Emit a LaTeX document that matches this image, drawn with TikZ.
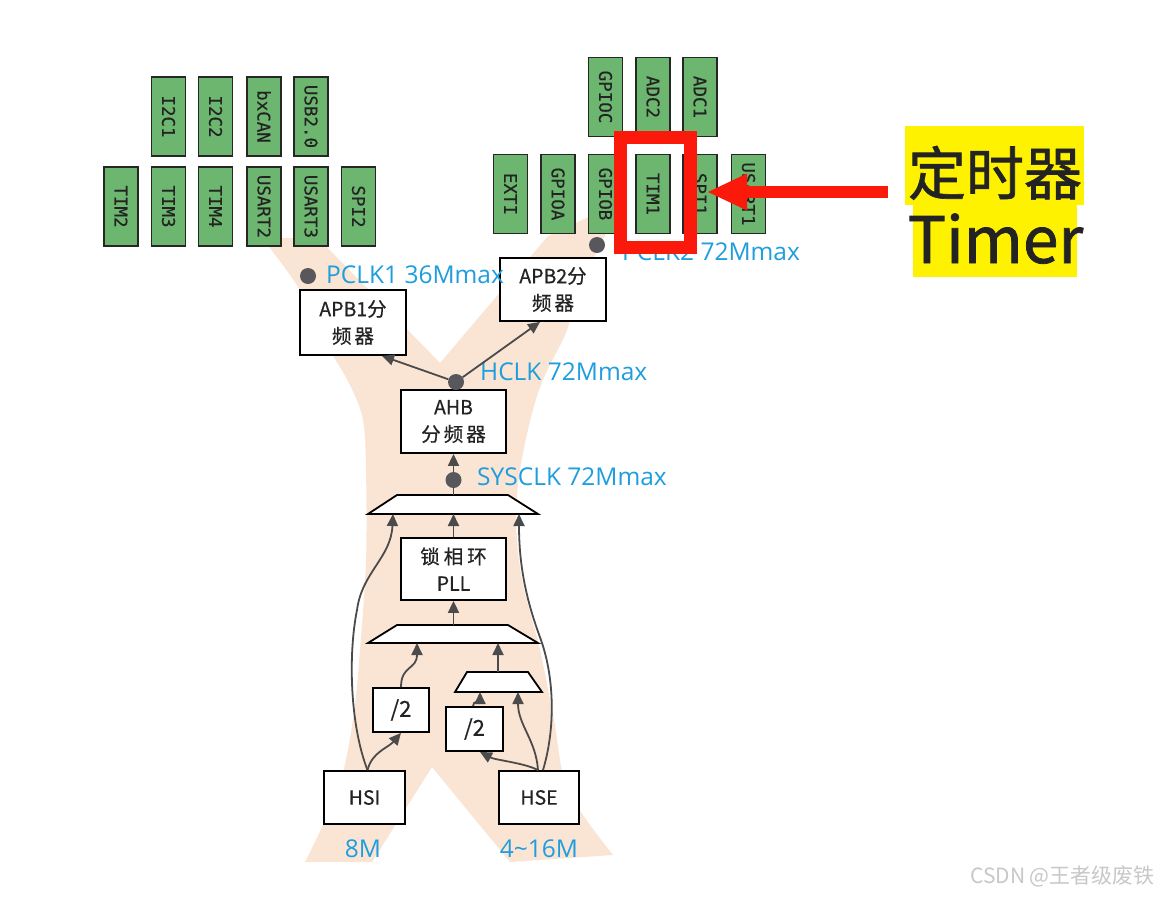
\documentclass[tikz,border=0pt]{standalone}
\usepackage{fontspec}
\usetikzlibrary{arrows.meta}
\newfontfamily\cjk{Noto Sans CJK SC}
\newfontfamily\cjkb{Noto Sans CJK SC}[FakeBold=0.6]
\newfontfamily\cjkbig{Noto Sans CJK SC}[FakeBold=1.2]
\newfontfamily\osans{Open Sans}
\newfontfamily\dmono{DejaVu Sans Mono}[FakeBold=0.4]
\definecolor{peach}{RGB}{250,228,212}
\definecolor{pgreen}{RGB}{108,182,112}
\definecolor{lblue}{RGB}{30,158,222}
\definecolor{hred}{RGB}{250,25,10}
\definecolor{hyellow}{RGB}{255,242,0}
\definecolor{arrgray}{RGB}{75,75,75}
\definecolor{dotgray}{RGB}{88,88,92}
\definecolor{txtdark}{RGB}{35,35,35}
\definecolor{wmgray}{RGB}{200,200,200}
\begin{document}
\begin{tikzpicture}[x=1pt,y=-1pt,
  gbox/.style={draw=black!85, line width=1.4pt, fill=pgreen, rotate=-90, minimum width=79pt, minimum height=34pt, inner sep=0pt, font=\dmono\fontsize{17.5}{17.5}\selectfont, text=txtdark},
  cbox/.style={draw=black, line width=1.8pt, fill=white, inner sep=0pt, align=center, font=\cjkb\fontsize{19.5}{27}\selectfont, text=txtdark},
  mux/.style={draw=black, line width=1.8pt, fill=white, line join=miter},
  dot/.style={circle, fill=dotgray, minimum size=16pt, inner sep=0pt},
  clk/.style={text=lblue, font=\osans\fontsize{24.5}{24.5}\selectfont, inner sep=0pt, anchor=base west},
  arr/.style={draw=arrgray, line width=1.8pt, -{Triangle[length=12pt,width=11pt]}},
  ln/.style={draw=arrgray, line width=1.8pt},
]
\useasboundingbox (0,0) rectangle (1158,897);
\fill[white] (0,0) rectangle (1158,897);

% peach X background
\fill[peach] (262,238) -- (318,238) -- (440,363) -- (548,236) -- (625,200)
  -- plot[smooth, tension=0.55] coordinates {(625,200) (600,245) (580,290) (565,335) (545,375) (532,413) (520,470) (516,520) (522,580) (540,650) (554,720) (568,790) (613,855)}
  -- (510,862) -- (432,767) -- (372,862) -- (305,862)
  -- plot[smooth, tension=0.55] coordinates {(305,862) (338,790) (353,720) (360,650) (366,560) (366,470) (363,420) (350,385) (330,350) (298,287) (262,238)} -- cycle;

% APB1 peripherals
\node[gbox] (i2c1) at (168.5,116.5) {I2C1};
\node[gbox] (i2c2) at (215.5,116.5) {I2C2};
\node[gbox] (bxcan) at (264,116.5) {bxCAN};
\node[gbox] (usb) at (311,116.5) {USB2.0};
\node[gbox] (tim2) at (121,206.5) {TIM2};
\node[gbox] (tim3) at (168.5,206.5) {TIM3};
\node[gbox] (tim4) at (215.5,206.5) {TIM4};
\node[gbox] (usart2) at (264,206.5) {USART2};
\node[gbox] (usart3) at (311,206.5) {USART3};
\node[gbox] (spi2) at (358.5,206.5) {SPI2};

% APB2 peripherals
\node[gbox] (gpioc) at (605.5,97) {GPIOC};
\node[gbox] (adc2) at (653,97) {ADC2};
\node[gbox] (adc1) at (700,97) {ADC1};
\node[gbox] (exti) at (510.5,194) {EXTI};
\node[gbox] (gpioa) at (558,194) {GPIOA};
\node[gbox] (gpiob) at (605.5,194) {GPIOB};
\node[gbox] (tim1) at (653,194) {TIM1};
\node[gbox] (spi1) at (700,194) {SPI1};
\node[gbox] (usart1) at (748.5,194) {USART1};

% clock tree boxes
\node[cbox, minimum width=106pt, minimum height=65pt] (apb1) at (353,322.5) {APB1分\\频\hspace{3pt}器};
\node[cbox, minimum width=106pt, minimum height=63pt] (apb2) at (553,289.5) {APB2分\\频\hspace{3pt}器};
\node[cbox, minimum width=105pt, minimum height=63pt] (ahb) at (453.5,421.5) {AHB\\分\hspace{3pt}频\hspace{3pt}器};
\node[cbox, minimum width=105pt, minimum height=62pt] (pll) at (453.5,569) {锁\hspace{4pt}相\hspace{4pt}环\\PLL};
\node[cbox, minimum width=56pt, minimum height=44pt, font=\cjkb\fontsize{22}{22}\selectfont] (div1) at (401,710) {/2};
\node[cbox, minimum width=57pt, minimum height=44pt, font=\cjkb\fontsize{22}{22}\selectfont] (div2) at (474.5,729) {/2};
\node[cbox, minimum width=81pt, minimum height=53pt] (hsi) at (364.5,797.5) {HSI};
\node[cbox, minimum width=80pt, minimum height=53pt] (hse) at (539,797.5) {HSE};

% multiplexers
\draw[mux] (397,495) -- (508,495) -- (538,514) -- (368,514) -- cycle;
\draw[mux] (397,625) -- (508,625) -- (538,643) -- (368,643) -- cycle;
\draw[mux] (467,672) -- (528,672) -- (542,692) -- (455,692) -- cycle;
\coordinate (m1a) at (393,514);
\coordinate (m1b) at (453.5,514);
\coordinate (m1c) at (519,514);
\coordinate (m1o) at (453.5,495);
\coordinate (m2a) at (417,643);
\coordinate (m2b) at (498,643);
\coordinate (m2o) at (453.5,625);
\coordinate (m3a) at (480,692);
\coordinate (m3b) at (518,692);
\coordinate (m3o) at (498,672);

% dots and clock labels
\node[dot] (pclk1dot) at (308,276) {};
\node[clk] (pclk1) at (326,283) {PCLK1 36Mmax};
\node[dot] (pclk2dot) at (597,245) {};
\node[clk] (pclk2) at (622,260) {PCLK2 72Mmax};
\node[dot] (hclkdot) at (456,382) {};
\node[clk] (hclk) at (480,380) {HCLK 72Mmax};
\node[dot] (sysdot) at (453.5,480) {};
\node[clk] (sysclk) at (477,485) {SYSCLK 72Mmax};
\node[clk, anchor=base] (f8) at (363,857) {8M};
\node[clk, anchor=base] (f416) at (539,857) {4\textasciitilde16M};

% connectors
\draw[arr] (hclkdot) -- ([xshift=29pt]apb1.south);
\draw[arr] (hclkdot) -- ([xshift=-13pt]apb2.south);
\draw[arr] (sysdot) -- (ahb.south);
\draw[ln] (m1o) -- (sysdot);
\draw[arr] (pll.north) -- (m1b);
\draw[arr] (m2o) -- (pll.south);
\draw[arr] (m3o) -- (m2b);
\draw[arr] ([xshift=3pt]hsi.north) .. controls (350,725) and (348,655) .. (357,610) .. controls (362,572) and (391,558) .. (m1a);
\draw[arr] ([xshift=3pt]hsi.north) .. controls (372,752) and (388,748) .. (div1.south);
\draw[arr] (div1.north) .. controls (401,665) and (417,670) .. (m2a);
\draw[arr] ([xshift=4pt]hse.north) .. controls (555,730) and (555,680) .. (541,640) .. controls (528,605) and (519,570) .. (m1c);
\draw[arr] ([xshift=-1pt]hse.north) .. controls (536,740) and (518,725) .. (m3b);
\draw[arr] ([xshift=-1pt]hse.north) .. controls (525,763) and (495,760) .. ([xshift=5.5pt]div2.south);
\draw[arr] ([xshift=-1.5pt]div2.north) .. controls (473,700) and (480,702) .. (m3a);

% Timer label
\fill[hyellow] (905,126) rectangle (1084,205);
\fill[hyellow] (913,205) rectangle (1077,277);
\node[font=\cjkbig\fontsize{58}{58}\selectfont, text=txtdark, anchor=base, inner sep=0pt] (tzh) at (995,195) {定时器};
\node[font=\cjkbig\fontsize{64}{64}\selectfont, text=txtdark, anchor=base, inner sep=0pt] (ten) at (995.5,263) {Timer};

% highlight
\node[draw=hred, line width=13pt, minimum width=70.5pt, minimum height=109.5pt, inner sep=0pt] (hl) at (655.25,192.25) {};
\coordinate (atail) at (888,192);
\coordinate (ahead) at (708,192);
\draw[hred, line width=12pt, -{Triangle[length=39pt,width=37pt,line width=0pt]}] (atail) -- (ahead);

% watermark
\node[font=\cjk\fontsize{21}{21}\selectfont, text=wmgray, anchor=base east, inner sep=0pt] (wm) at (1155,883) {CSDN @王者级废铁};
\end{tikzpicture}
\end{document}
